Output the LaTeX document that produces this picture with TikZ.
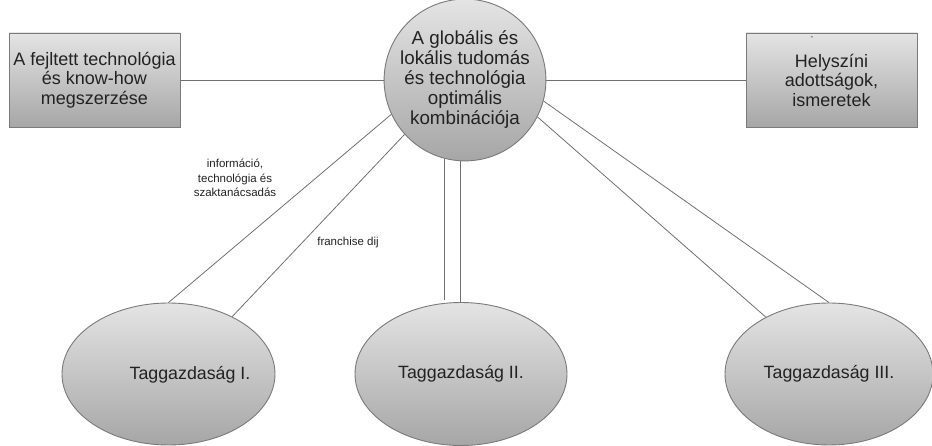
\documentclass[tikz,border=0pt]{standalone}
\usepackage{fontspec}
\setmainfont{Liberation Sans}
\usetikzlibrary{shapes.geometric}
\definecolor{topg}{HTML}{E4E4E4}
\definecolor{botg}{HTML}{A6A6A6}
\definecolor{edgeg}{HTML}{7A7A7A}
\definecolor{lineg}{HTML}{707070}
\definecolor{txt}{HTML}{222222}
\tikzset{
  shaded/.style={draw=edgeg, line width=0.9pt, top color=topg, bottom color=botg, inner sep=0pt, text=txt},
  boxnode/.style={shaded, rectangle, align=center, font=\fontsize{18}{19.5}\selectfont},
  hubnode/.style={shaded, circle, align=center, font=\fontsize{18.8}{20}\selectfont},
  member/.style={shaded, ellipse, font=\fontsize{17.8}{20}\selectfont},
  membertext/.style={text=txt, font=\fontsize{17.8}{20}\selectfont},
  smalltext/.style={text=txt, align=center, font=\fontsize{11.5}{14.5}\selectfont},
  conn/.style={draw=lineg, line width=0.8pt}
}
\begin{document}
\begin{tikzpicture}[x=1pt, y=-1pt]
\useasboundingbox (0,0) rectangle (932,446);
% main nodes
\node[boxnode, minimum width=171pt, minimum height=94pt] (l) at (94.5,80)
  {A fejltett technológia\\és know-how\\megszerzése};
\node[boxnode, minimum width=171pt, minimum height=94pt] (r) at (831.5,80)
  {Helyszíni\\adottságok,\\ismeretek};
\node[text=txt, font=\fontsize{8}{8}\selectfont] (dash) at (812,38) {-};
\node[hubnode, minimum size=153pt] (c) at (465,80)
  {A globális és\\lokális tudomás\\és technológia\\optimális\\kombinációja};
\node[member, minimum width=213pt, minimum height=142pt] (e1) at (168.5,374) {};
\node[membertext] (t1) at (190,375) {Taggazdaság I.};
\node[member, minimum width=212pt, minimum height=143pt] (e2) at (461,374) {Taggazdaság II.};
\node[member, minimum width=208pt, minimum height=142pt] (e3) at (829,374) {Taggazdaság III.};
\coordinate (v1end) at (445,300);
% horizontal connectors
\draw[conn] (l.east) -- (c.west);
\draw[conn] (c.east) -- (r.west);
% to member I
\draw[conn] (c.205.6) -- (e1.90);
\draw[conn] (c.222.9) -- (e1.42.8);
% to member II
\draw[conn] (c.255.5) -- (c.255.5 |- v1end);
\draw[conn] (c.267.7) -- (c.267.7 |- e2.north);
% to member III
\draw[conn] (c.-15.3) -- (e3.90);
\draw[conn] (c.-27.2) -- (e3.138.8);
% labels
\node[smalltext] (lab1) at (235,178) {információ,\\technológia és\\szaktanácsadás};
\node[smalltext] (lab2) at (348,243) {franchise dij};
\end{tikzpicture}
\end{document}
